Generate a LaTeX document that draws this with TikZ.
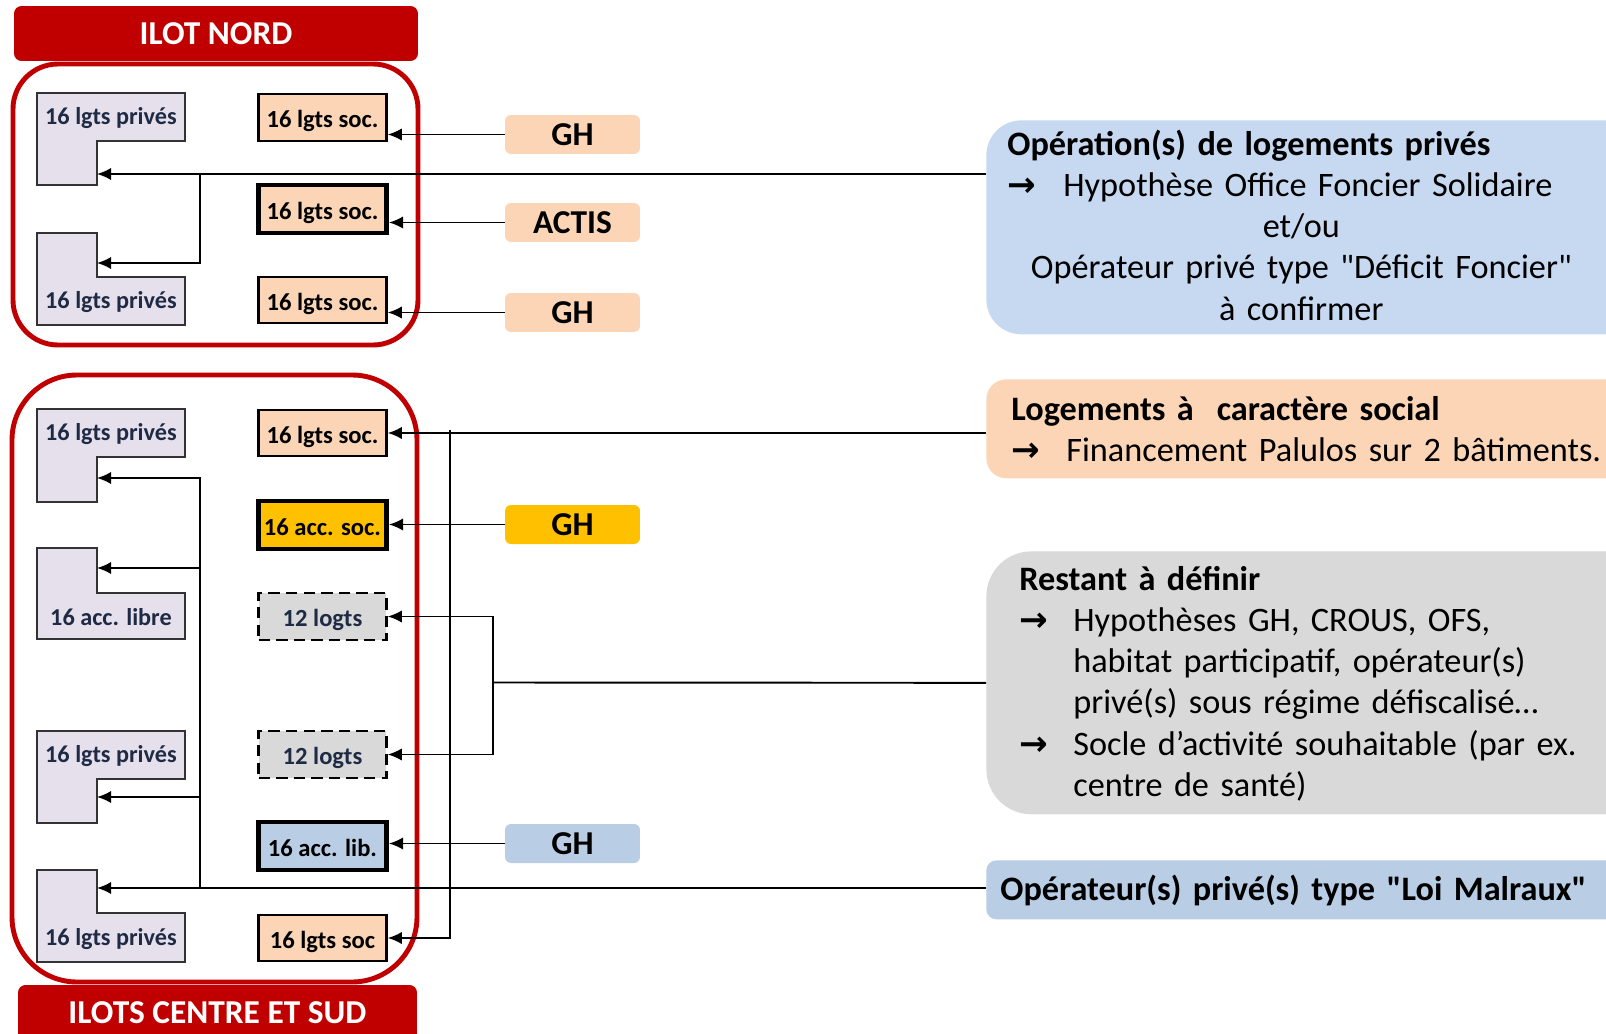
\documentclass[tikz,border=0pt]{standalone}
\usepackage{fontspec}
\setmainfont{Carlito}
\newfontfamily\flfont{DejaVu Sans}
\usepackage{xcolor}
\usepackage{tikz}
\usetikzlibrary{arrows}
\usetikzlibrary{calc,positioning,arrows.meta}

\definecolor{rouge}{HTML}{C00000}
\definecolor{peche}{HTML}{FBD5B5}
\definecolor{jaune}{HTML}{FFC000}
\definecolor{bleu}{HTML}{B9CDE5}
\definecolor{bleuclair}{HTML}{C6D9F1}
\definecolor{gris}{HTML}{D9D9D9}
\definecolor{lavande}{HTML}{E6E0EC}
\definecolor{encre}{HTML}{1F2A44}

\newcommand{\flch}[1]{\makebox[#1][l]{\flfont\bfseries →}}

\begin{document}
\begin{tikzpicture}[x=0.02cm, y=-0.02cm,
        fleche/.style={-{Latex[length=8pt,width=7pt]}, line width=1.1pt},
        cadre/.style={draw=rouge, line width=2.8pt},
        entete/.style={fill=rouge, rounded corners=0.15cm, text=white, inner sep=0pt, font=\fontsize{19}{22}\selectfont\bfseries},
        prive/.style={draw=black!80, line width=1.2pt, fill=lavande},
        ptxt/.style={text=encre, inner sep=0pt, font=\fontsize{13.8}{16}\selectfont\bfseries},
        logt/.style={draw=black, line width=1.4pt, minimum width=2.56cm, minimum height=0.93cm, inner sep=0pt, text height=1.15em, text depth=0pt, font=\fontsize{14}{16}\selectfont\bfseries},
        epais/.style={line width=2.8pt, minimum height=0.96cm},
        gh/.style={rounded corners=0.12cm, minimum width=2.7cm, minimum height=0.78cm, inner sep=0pt, font=\fontsize{19}{22}\selectfont\bfseries},
        fond/.style={anchor=north west, inner sep=0pt, minimum width=13.3cm},
        txt/.style={anchor=base west, inner sep=0pt, font=\fontsize{19.5}{23.5}\selectfont}]
    \useasboundingbox (0,0) rectangle (1606,1034);

    % ilot nord
    \draw[cadre, rounded corners=0.9cm] (13,64) rectangle (418,345);
    \node[entete, minimum width=8.08cm, minimum height=1.1cm] (hNord) at (216,33.5) {ILOT NORD};
    \draw[prive] (37,93) -- (185,93) -- (185,141) -- (97,141) -- (97,185) -- (37,185) -- cycle;
    \draw[prive] (37,233) -- (97,233) -- (97,277) -- (185,277) -- (185,325) -- (37,325) -- cycle;
    \node[ptxt] (pn1) at (111,118) {16 lgts privés};
    \node[ptxt] (pn2) at (111,302) {16 lgts privés};
    \coordinate (pn1t) at (97,174);
    \coordinate (pn2t) at (97,263);
    \node[logt, fill=peche] (socN1) at (322.5,117.5) {16 lgts soc.};
    \node[logt, epais, fill=peche] (socN2) at (322.5,209) {16 lgts soc.};
    \node[logt, fill=peche] (socN3) at (322.5,300) {16 lgts soc.};

    % ilots centre et sud
    \draw[cadre, rounded corners=1.3cm] (12,375) rectangle (417,982);
    \node[entete, minimum width=7.98cm, minimum height=1.12cm] (hSud) at (217.5,1013) {ILOTS CENTRE ET SUD};
    \draw[prive] (37,409) -- (185,409) -- (185,457) -- (97,457) -- (97,502) -- (37,502) -- cycle;
    \draw[prive] (37,548) -- (97,548) -- (97,593) -- (185,593) -- (185,639) -- (37,639) -- cycle;
    \draw[prive] (37,731) -- (185,731) -- (185,779) -- (97,779) -- (97,823) -- (37,823) -- cycle;
    \draw[prive] (37,870) -- (97,870) -- (97,913) -- (185,913) -- (185,962) -- (37,962) -- cycle;
    \node[ptxt] (pc1) at (111,434) {16 lgts privés};
    \node[ptxt] (pc2) at (111,617) {16 acc. libre};
    \node[ptxt] (pc3) at (111,756) {16 lgts privés};
    \node[ptxt] (pc4) at (111,939) {16 lgts privés};
    \coordinate (pc1t) at (97,478);
    \coordinate (pc2t) at (97,568);
    \coordinate (pc3t) at (97,797);
    \coordinate (pc4t) at (97,888);
    \node[logt, fill=peche] (socC1) at (322.5,433) {16 lgts soc.};
    \node[logt, epais, fill=jaune] (socC2) at (322.5,525) {16 acc. soc.};
    \node[logt, dash pattern=on 6.5pt off 3.5pt, fill=gris, text=encre] (logC3) at (322.5,616.5) {12 logts};
    \node[logt, dash pattern=on 6.5pt off 3.5pt, fill=gris, text=encre] (logC4) at (322.5,754.5) {12 logts};
    \node[logt, epais, fill=bleu] (socC5) at (322.5,846) {16 acc. lib.};
    \node[logt, fill=peche] (socC6) at (322.5,938) {16 lgts soc};

    % bailleurs
    \node[gh, fill=peche] (ghN1) at (572.5,134.5) {GH};
    \node[gh, fill=peche] (actis) at (572.5,222.5) {ACTIS};
    \node[gh, fill=peche] (ghN3) at (572.5,312.5) {GH};
    \node[gh, fill=jaune] (ghC2) at (572.5,524.5) {GH};
    \node[gh, fill=bleu] (ghC5) at (572.5,843.5) {GH};
    \draw[fleche] (ghN1.west) -- (ghN1.west -| socN1.east);
    \draw[fleche] (actis.west) -- (actis.west -| socN2.east);
    \draw[fleche] (ghN3.west) -- (ghN3.west -| socN3.east);
    \draw[fleche] (ghC2.west) -- (ghC2.west -| socC2.east);
    \draw[fleche] (ghC5.west) -- (ghC5.west -| socC5.east);

    % encadres de droite
    \node[fond, fill=bleuclair, rounded corners=0.7cm, minimum height=4.28cm] (bPrive) at (986,120) {};
    \node[fond, fill=peche, rounded corners=0.4cm, minimum height=1.98cm] (bSocial) at (986,379) {};
    \node[fond, fill=gris, rounded corners=0.9cm, minimum height=5.26cm] (bRestant) at (986,551) {};
    \node[fond, fill=bleu, rounded corners=0.2cm, minimum height=1.18cm] (bMalraux) at (986,860) {};

    \node[txt, text width=11.76cm] (tPrive) at (1007,155) {\raggedright\textbf{Opération(s) de logements privés}\par
        \flch{1.12cm}Hypothèse Office Foncier Solidaire\par
        {\centering et/ou\par Opérateur privé type \textquotedbl Déficit Foncier\textquotedbl\par à confirmer\par}};
    \node[txt, text width=13cm] (tSocial) at (1011,420) {\raggedright\textbf{Logements à \ caractère social}\par
        \flch{1.1cm}Financement Palulos sur 2 bâtiments.};
    \node[txt, text width=13cm] (tRestant) at (1019,590) {\raggedright\textbf{Restant à définir}\par
        \hangindent=1.08cm\hangafter=1\noindent\flch{1.08cm}Hypothèses GH, CROUS, OFS,\newline habitat participatif, opérateur(s)\newline privé(s) sous régime défiscalisé…\par
        \hangindent=1.08cm\hangafter=1\noindent\flch{1.08cm}Socle d’activité souhaitable (par ex.\newline centre de santé)\par};
    \node[txt, text width=13cm] (tMalraux) at (1000,900) {\raggedright\textbf{Opérateur(s) privé(s) type \textquotedbl Loi Malraux\textquotedbl}};

    % liaisons
    \coordinate (xN) at (200,174);
    \draw[fleche] (pn1t -| bPrive.west) -- (pn1t);
    \draw[fleche] (xN) |- (pn2t);
    \coordinate (xS) at (450,430);
    \draw[fleche] (socC1.east -| bSocial.west) -- (socC1.east);
    \draw[fleche] (xS) |- (socC6.east);
    \coordinate (xR) at (493,682.5);
    \draw[line width=1.1pt] (bRestant.west) -- (xR);
    \draw[fleche] (xR) |- (logC3.east);
    \draw[fleche] (xR) |- (logC4.east);
    \coordinate (xM) at (200,888);
    \draw[fleche] (pc4t -| bMalraux.west) -- (pc4t);
    \draw[fleche] (xM) |- (pc1t);
    \draw[fleche] (xM) |- (pc2t);
    \draw[fleche] (xM) |- (pc3t);
\end{tikzpicture}
\end{document}
